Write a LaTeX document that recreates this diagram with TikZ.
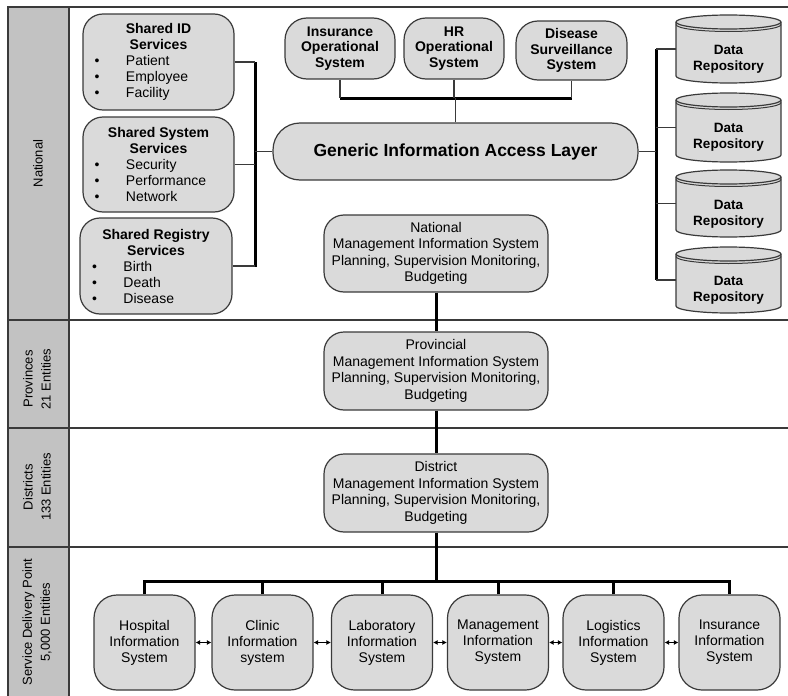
\documentclass[tikz,border=0pt]{standalone}
\usepackage{fontspec}
\setmainfont{Liberation Sans}
\usetikzlibrary{arrows.meta}
\definecolor{lc}{HTML}{3A3A3A}
\definecolor{bf}{HTML}{DADADA}
\definecolor{colf}{HTML}{C2C2C2}
\newcommand{\blt}{\makebox[37.5pt][l]{\hspace{6pt}\textbullet}}
\newcommand{\ttl}[1]{\makebox[140pt][c]{\bfseries #1}}
\newcommand{\itm}[1]{\makebox[140pt][l]{\blt #1}}
\begin{document}
\begin{tikzpicture}[x=1pt,y=-1pt,
  frameline/.style={draw=lc,line width=1.3pt},
  box/.style={draw=lc,fill=bf,line width=1.2pt,rounded corners=20pt,align=center,
    font=\fontsize{14}{16}\selectfont,inner sep=0pt},
  bbox/.style={box,font=\bfseries\fontsize{14}{15.5}\selectfont},
  rtext/.style={align=center,font=\bfseries\fontsize{13.5}{16}\selectfont,inner sep=0pt},
  repobody/.style={minimum width=105pt,inner sep=0pt},
  cylfill/.style={fill=bf,draw=lc,line width=1.2pt},
  cylline/.style={draw=lc,line width=1pt},
  lbl/.style={rotate=90,align=center,font=\fontsize{13}{18}\selectfont,inner sep=0pt},
  bus/.style={draw=black,line width=3pt},
  thin/.style={draw=lc,line width=1.3pt},
  dbl/.style={draw=black,line width=1.2pt,{Latex[length=4.5pt,width=5pt]}-{Latex[length=4.5pt,width=5pt]}}
]
\useasboundingbox (0,0) rectangle (788,696);
% frame
\fill[colf] (8,7) rectangle (69,700);
\draw[frameline] (8,700) -- (8,7) -- (788,7);
\draw[frameline] (69,7) -- (69,700);
\draw[frameline] (8,320) -- (788,320);
\draw[frameline] (8,428) -- (788,428);
\draw[frameline] (8,547) -- (788,547);
% lane labels
\node[lbl] (lnat) at (38,163.5) {National};
\node[lbl] (lprov) at (37,379) {Provinces\\21 Entities};
\node[lbl] (ldist) at (37,487) {Districts\\133 Entities};
\node[lbl] (lsdp) at (37,622) {Service Delivery Point\\5,000 Entities};
% shared services
\node[box,minimum width=151pt,minimum height=96pt] (sid) at (158.5,62)
  {\ttl{Shared ID}\\\ttl{Services}\\\itm{Patient}\\\itm{Employee}\\\itm{Facility}};
\node[box,minimum width=151pt,minimum height=95pt] (sys) at (158.5,164.5)
  {\ttl{Shared System}\\\ttl{Services}\\\itm{Security}\\\itm{Performance}\\\itm{Network}};
\node[box,minimum width=152pt,minimum height=96pt] (reg) at (156,266)
  {\ttl{Shared Registry}\\\ttl{Services}\\\itm{Birth}\\\itm{Death}\\\itm{Disease}};
% operational systems
\node[bbox,rounded corners=22pt,minimum width=110pt,minimum height=61pt] (ins) at (340,48.5) {Insurance\\Operational\\System};
\node[bbox,rounded corners=22pt,minimum width=100pt,minimum height=61pt] (hr) at (454,48.5) {HR\\Operational\\System};
\node[bbox,rounded corners=22pt,minimum width=111pt,minimum height=59pt] (dis) at (571.5,50.5) {Disease\\Surveillance\\System};
% GIAL
\node[box,rounded corners=27pt,minimum width=365pt,minimum height=57pt,
  font=\bfseries\fontsize{17.5}{20}\selectfont] (gial) at (455.5,151.5) {Generic Information Access Layer};
% MIS boxes
\node[box,minimum width=224pt,minimum height=77pt,font=\fontsize{14}{16.5}\selectfont] (nat) at (436,253.5)
  {National\\Management Information System\\Planning, Supervision Monitoring,\\Budgeting};
\node[box,minimum width=224pt,minimum height=78pt,font=\fontsize{14}{16.5}\selectfont] (prov) at (436,371)
  {Provincial\\Management Information System\\Planning, Supervision Monitoring,\\Budgeting};
\node[box,minimum width=224pt,minimum height=78pt,font=\fontsize{14}{16.5}\selectfont] (dist) at (436,493)
  {District\\Management Information System\\Planning, Supervision Monitoring,\\Budgeting};
% repositories (drawn cylinders)
\filldraw[cylfill] (676,22) -- (676,76) arc[start angle=180,end angle=360,x radius=52.5pt,y radius=7pt]
  -- (781,22) arc[start angle=0,end angle=180,x radius=52.5pt,y radius=7pt] -- cycle;
\draw[cylfill,fill=none] (676,22) arc[start angle=180,end angle=360,x radius=52.5pt,y radius=7pt];
\draw[cylline] (676,24.5) arc[start angle=180,end angle=360,x radius=52.5pt,y radius=7pt];
\node[repobody,minimum height=68pt] (r1) at (728.5,49) {};
\node[rtext] (r1t) at (728.5,59) {Data\\Repository};

\filldraw[cylfill] (676,100) -- (676,155) arc[start angle=180,end angle=360,x radius=52.5pt,y radius=7pt]
  -- (781,100) arc[start angle=0,end angle=180,x radius=52.5pt,y radius=7pt] -- cycle;
\draw[cylfill,fill=none] (676,100) arc[start angle=180,end angle=360,x radius=52.5pt,y radius=7pt];
\draw[cylline] (676,102.5) arc[start angle=180,end angle=360,x radius=52.5pt,y radius=7pt];
\node[repobody,minimum height=69pt] (r2) at (728.5,127.5) {};
\node[rtext] (r2t) at (728.5,137) {Data\\Repository};

\filldraw[cylfill] (676,177) -- (676,230) arc[start angle=180,end angle=360,x radius=52.5pt,y radius=7pt]
  -- (781,177) arc[start angle=0,end angle=180,x radius=52.5pt,y radius=7pt] -- cycle;
\draw[cylfill,fill=none] (676,177) arc[start angle=180,end angle=360,x radius=52.5pt,y radius=7pt];
\draw[cylline] (676,179.5) arc[start angle=180,end angle=360,x radius=52.5pt,y radius=7pt];
\node[repobody,minimum height=67pt] (r3) at (728.5,203.5) {};
\node[rtext] (r3t) at (728.5,214) {Data\\Repository};

\filldraw[cylfill] (676,254) -- (676,306) arc[start angle=180,end angle=360,x radius=52.5pt,y radius=7pt]
  -- (781,254) arc[start angle=0,end angle=180,x radius=52.5pt,y radius=7pt] -- cycle;
\draw[cylfill,fill=none] (676,254) arc[start angle=180,end angle=360,x radius=52.5pt,y radius=7pt];
\draw[cylline] (676,256.5) arc[start angle=180,end angle=360,x radius=52.5pt,y radius=7pt];
\node[repobody,minimum height=66pt] (r4) at (728.5,280) {};
\node[rtext] (r4t) at (728.5,290) {Data\\Repository};
% service delivery systems
\node[box,rounded corners=23pt,minimum width=101pt,minimum height=95pt] (hos) at (144.5,642.5) {Hospital\\Information\\System};
\node[box,rounded corners=23pt,minimum width=101pt,minimum height=95pt] (cli) at (262.5,642.5) {Clinic\\Information\\system};
\node[box,rounded corners=23pt,minimum width=101pt,minimum height=95pt] (lab) at (382,642.5) {Laboratory\\Information\\System};
\node[box,rounded corners=23pt,minimum width=101pt,minimum height=95pt] (mgt) at (498,642.5) {Management\\Information\\System};
\node[box,rounded corners=23pt,minimum width=101pt,minimum height=95pt] (log) at (613.5,642.5) {Logistics\\Information\\System};
\node[box,rounded corners=23pt,minimum width=101pt,minimum height=95pt] (isy) at (729.5,642.5) {Insurance\\Information\\System};
% coordinates for buses
\coordinate (lbt) at (255,62);
\coordinate (lbb) at (255,267);
\coordinate (tbl) at (340,98);
\coordinate (tbr) at (572,98);
\coordinate (rbt) at (656,49);
\coordinate (rbb) at (656,280);
\coordinate (bb) at (436,581);
% left bus
\draw[bus] (lbt) -- (lbb);
\draw[thin] (sid.east) -- (sid.east -| lbt);
\draw[thin] (sys.east) -- (sys.east -| lbt);
\draw[thin] (reg.east) -- (reg.east -| lbt);
\draw[thin] (gial.west) -- (gial.west -| lbt);
% top bus
\draw[bus] (tbl) -- (tbr);
\draw[thin] (ins.south) -- (ins.south |- tbl);
\draw[thin] (hr.south) -- (hr.south |- tbl);
\draw[thin] (dis.south) -- (dis.south |- tbl);
\draw[thin] (gial.north) -- (gial.north |- tbl);
% right bus
\draw[bus] (rbt) -- (rbb);
\draw[thin] (gial.east) -- (gial.east -| rbt);
\draw[thin] (r1.west) -- (r1.west -| rbt);
\draw[thin] (r2.west) -- (r2.west -| rbt);
\draw[thin] (r3.west) -- (r3.west -| rbt);
\draw[thin] (r4.west) -- (r4.west -| rbt);
% MIS chain
\draw[bus] (nat.south) -- (prov.north);
\draw[bus] (prov.south) -- (dist.north);
\draw[bus] (dist.south) -- (bb);
\draw[bus] (hos.north) |- (bb) -| (isy.north);
\draw[bus] (cli.north) -- (cli.north |- bb);
\draw[bus] (lab.north) -- (lab.north |- bb);
\draw[bus] (mgt.north) -- (mgt.north |- bb);
\draw[bus] (log.north) -- (log.north |- bb);
% peer arrows
\draw[dbl] (hos.east) -- (cli.west);
\draw[dbl] (cli.east) -- (lab.west);
\draw[dbl] (lab.east) -- (mgt.west);
\draw[dbl] (mgt.east) -- (log.west);
\draw[dbl] (log.east) -- (isy.west);
\end{tikzpicture}
\end{document}
